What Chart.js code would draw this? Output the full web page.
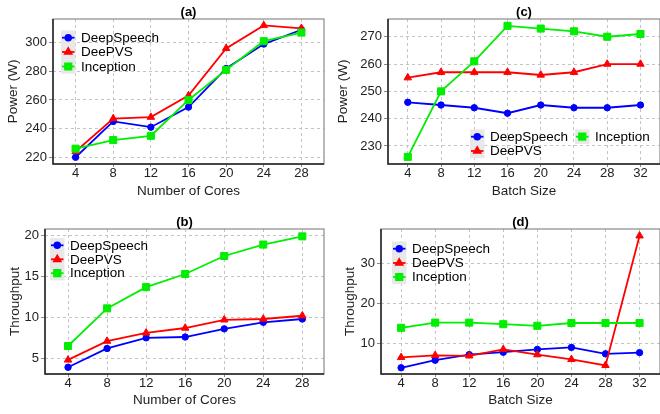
<!DOCTYPE html>
<html>
<head>
<meta charset="utf-8">
<script src="https://cdn.jsdelivr.net/npm/chart.js@4.4.1/dist/chart.umd.min.js"></script>
<style>
  body { margin: 0; width: 660px; height: 414px; overflow: hidden; position: relative; background: #fff; }
  canvas { position: absolute; }
</style>
</head>
<body>
<canvas id="chartA" width="330" height="207" style="left:0;top:0"></canvas>
<canvas id="chartC" width="336" height="207" style="left:330px;top:0"></canvas>
<canvas id="chartB" width="330" height="207" style="left:0;top:207px"></canvas>
<canvas id="chartD" width="336" height="207" style="left:330px;top:207px"></canvas>
<script>
const seriesNames = ["DeepSpeech", "DeePVS", "Inception"];
const cores = [4, 8, 12, 16, 20, 24, 28];
const batchSizes = [4, 8, 12, 16, 20, 24, 28, 32];

// (a) power vs cores
const powerCoresDeepSpeech = [220, 245, 241, 255, 282, 299, 309];
const powerCoresDeePVS = [224, 247, 248, 263, 296, 312, 310];
const powerCoresInception = [226, 232, 235, 260, 281, 301, 307];
const powerCoresTicks = [220, 240, 260, 280, 300];

// (b) throughput vs cores
const thrCoresDeepSpeech = [3.9, 6.2, 7.5, 7.6, 8.6, 9.4, 9.8];
const thrCoresDeePVS = [4.8, 7.1, 8.1, 8.7, 9.7, 9.8, 10.2];
const thrCoresInception = [6.5, 11.1, 13.7, 15.3, 17.5, 18.9, 19.9];
const thrCoresTicks = [5, 10, 15, 20];

// (c) power vs batch size
const powerBatchDeepSpeech = [246, 245, 244, 242, 245, 244, 244, 245];
const powerBatchDeePVS = [255, 257, 257, 257, 256, 257, 260, 260];
const powerBatchInception = [226, 250, 261, 274, 273, 272, 270, 271];
const powerBatchTicks = [230, 240, 250, 260, 270];

// (d) throughput vs batch size
const thrBatchDeepSpeech = [3.8, 5.7, 7.1, 7.7, 8.4, 8.9, 7.3, 7.6];
const thrBatchDeePVS = [6.4, 6.9, 6.8, 8.4, 7.1, 5.9, 4.4, 36.8];
const thrBatchInception = [13.8, 15.1, 15.1, 14.7, 14.3, 15.0, 15.0, 15.0];
const thrBatchTicks = [10, 20, 30];

const colors = ["#0000ff", "#ff0000", "#00ee00"];
const styles = ["circle", "triangle", "rect"];
const radii = [3.2, 4.3, 5];
const FONT = "'Liberation Sans', Arial, sans-serif";

const panelPlugin = {
  id: "panel",
  beforeDatasetsDraw(chart) {
    const { ctx, chartArea: a } = chart;
    ctx.save();
    ctx.strokeStyle = "#8a8a8a";
    ctx.lineWidth = 1.2;
    ctx.strokeRect(a.left, a.top, a.right - a.left, a.bottom - a.top);
    ctx.strokeStyle = "#222";
    ctx.lineWidth = 1.5;
    ctx.beginPath();
    ctx.moveTo(a.left, a.top);
    ctx.lineTo(a.left, a.bottom);
    ctx.lineTo(a.right, a.bottom);
    ctx.stroke();
    ctx.restore();
  },
  afterDraw(chart, args, opts) {
    const { ctx, chartArea: a } = chart;
    ctx.save();
    ctx.fillStyle = "#000";
    ctx.font = "bold 13px " + FONT;
    ctx.textAlign = "center";
    ctx.textBaseline = "middle";
    ctx.fillText(opts.title, (a.left + a.right) / 2, opts.titleY);

    ctx.font = "13.5px " + FONT;
    ctx.textAlign = "left";
    opts.legend.forEach((p, i) => {
      ctx.fillStyle = "#e8e8e8";
      ctx.fillRect(p[0], p[1] - 7.2, 14.5, 14.4);
      ctx.strokeStyle = colors[i];
      ctx.lineWidth = 1.8;
      ctx.beginPath();
      ctx.moveTo(p[0] + 1, p[1]);
      ctx.lineTo(p[0] + 13.5, p[1]);
      ctx.stroke();
      ctx.fillStyle = colors[i];
      Chart.helpers.drawPoint(ctx, { pointStyle: styles[i], radius: radii[i] * 0.9, rotation: 0, borderWidth: 1 }, p[0] + 7.25, p[1]);
      ctx.fillStyle = "#000";
      ctx.fillText(seriesNames[i], p[0] + 20, p[1] + 0.5);
    });
    ctx.restore();
  }
};

function makePanel(id, cfg) {
  const canvas = document.getElementById(id);
  const w = canvas.width, h = canvas.height;
  const datasets = cfg.series.map((vals, i) => ({
    label: seriesNames[i],
    data: cfg.xs.map((x, j) => ({ x: x, y: vals[j] })),
    borderColor: colors[i],
    backgroundColor: colors[i],
    borderWidth: 1.8,
    pointStyle: styles[i],
    pointRadius: radii[i],
    pointBorderWidth: 1,
    tension: 0,
    order: 3 - i
  }));
  const tickFont = { family: FONT, size: 13 };
  return new Chart(canvas, {
    type: "line",
    data: { datasets: datasets },
    plugins: [panelPlugin],
    options: {
      responsive: false,
      animation: false,
      layout: { padding: { left: 0, top: cfg.area[1], right: w - cfg.area[2], bottom: 0 } },
      plugins: {
        legend: { display: false },
        tooltip: { enabled: false },
        panel: { title: cfg.title, titleY: cfg.titleY, legend: cfg.legend }
      },
      scales: {
        x: {
          type: "linear",
          min: cfg.xRange[0],
          max: cfg.xRange[1],
          afterBuildTicks: (s) => { s.ticks = cfg.xs.map((v) => ({ value: v })); },
          afterFit: (s) => { s.height = h - cfg.area[3]; },
          ticks: { color: "#222", font: tickFont, padding: -1, maxRotation: 0 },
          grid: { color: "#c4c4c4", lineWidth: 1, tickLength: 3, tickColor: "#888" },
          border: { display: false, dash: [3, 3] },
          title: { display: true, text: cfg.xTitle, color: "#222", font: { family: FONT, size: 13.5 }, padding: { top: 0, bottom: cfg.xTitlePad } }
        },
        y: {
          min: cfg.yRange[0],
          max: cfg.yRange[1],
          afterBuildTicks: (s) => { s.ticks = cfg.yTicks.map((v) => ({ value: v })); },
          afterFit: (s) => { s.width = cfg.area[0]; },
          ticks: { color: "#222", font: tickFont, padding: 2 },
          grid: { color: "#c4c4c4", lineWidth: 1, tickLength: 4, tickColor: "#888" },
          border: { display: false, dash: [3, 3] },
          title: { display: true, text: cfg.yTitle, color: "#222", font: { family: FONT, size: 13.5 }, padding: { top: cfg.yTitlePad, bottom: 0 } }
        }
      }
    }
  });
}

makePanel("chartA", {
  title: "(a)", titleY: 12, xTitle: "Number of Cores", yTitle: "Power (W)",
  xs: cores, series: [powerCoresDeepSpeech, powerCoresDeePVS, powerCoresInception],
  xRange: [1.6, 30.4], yRange: [215.3, 316.5], yTicks: powerCoresTicks,
  area: [53, 19, 328, 164], xTitlePad: 8, yTitlePad: 5,
  legend: [[61, 37.7], [61, 52], [61, 66.5]]
});

makePanel("chartC", {
  title: "(c)", titleY: 12, xTitle: "Batch Size", yTitle: "Power (W)",
  xs: batchSizes, series: [powerBatchDeepSpeech, powerBatchDeePVS, powerBatchInception],
  xRange: [1.62, 34.35], yRange: [223.4, 276.5], yTicks: powerBatchTicks,
  area: [58, 19, 333, 164], xTitlePad: 8, yTitlePad: 5,
  legend: [[140, 136.7], [140, 151], [245, 136.7]]
});

makePanel("chartB", {
  title: "(b)", titleY: 15, xTitle: "Number of Cores", yTitle: "Throughput",
  xs: cores, series: [thrCoresDeepSpeech, thrCoresDeePVS, thrCoresInception],
  xRange: [1.64, 30.22], yRange: [3.08, 20.8], yTicks: thrCoresTicks,
  area: [45, 22, 328, 167], xTitlePad: 6, yTitlePad: 7,
  legend: [[50, 38.3], [50, 52.3], [50, 66.2]]
});

makePanel("chartD", {
  title: "(d)", titleY: 15, xTitle: "Batch Size", yTitle: "Throughput",
  xs: batchSizes, series: [thrBatchDeepSpeech, thrBatchDeePVS, thrBatchInception],
  xRange: [1.64, 34.4], yRange: [2.25, 38.5], yTicks: thrBatchTicks,
  area: [51, 22, 333, 167], xTitlePad: 6, yTitlePad: 12,
  legend: [[62, 41.7], [62, 56], [62, 70]]
});
</script>
</body>
</html>
